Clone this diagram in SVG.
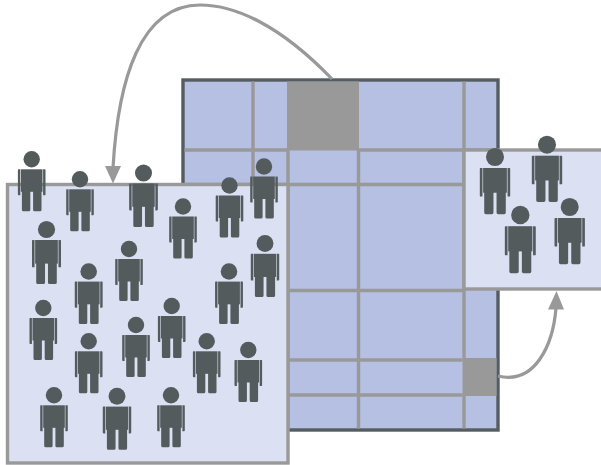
<svg xmlns="http://www.w3.org/2000/svg" width="601" height="465" viewBox="0 0 601 465">
<style>
.grid{stroke:#999;stroke-width:3.4;fill:none}
.panel{fill:#dbe0f2;stroke:#999;stroke-width:3.4}
.hot{fill:#999}
.conn{fill:none;stroke:#999;stroke-width:3.2}
.head{fill:#999}
.p{fill:#545b5d}
</style>
<defs>
<g id="person" class="p">
<circle cx="0" cy="0" r="8.200"/>
<rect x="-10.800" y="10" width="21.600" height="22.500"/>
<path d="M-9.800,30H-1.400V50.500Q-1.400,52-2.900,52H-8.300Q-9.800,52-9.800,50.500ZM1.400,30H9.800V50.500Q9.800,52,8.300,52H2.900Q1.400,52,1.400,50.500Z"/>
<path d="M-13.800,10.600Q-13.800,10-13.200,10H-11.400V36H-13Q-13.800,36-13.800,35.200ZM11.400,10H13.200Q13.800,10,13.800,10.600V35.200Q13.800,36,13,36H11.400Z"/>
</g>
</defs>
<g id="grid-frame">
<rect x="183" y="80" width="315" height="350" fill="#b5c0e2" stroke="#545d60" stroke-width="3.400"/>
<rect class="hot" x="287" y="81.500" width="72" height="69"/>
<rect class="hot" x="462.500" y="358" width="34" height="38"/>
<path class="grid" d="M253,81.500V428.500M288,150V428.500M358.500,150V428.500M464,81.500V358M464,396V428.500M184.500,150H287M359,150H496.500M184.500,184.500H462.500M184.500,290.500H462.500M184.500,360H462.500M184.500,395H462.500"/>
</g>
<g id="panel-main">
<rect class="panel" x="7.500" y="184.500" width="280.500" height="278.500"/>
</g>
<g id="panel-right">
<rect class="panel" x="464" y="150" width="140" height="139"/>
</g>
<g id="connectors">
<path class="conn" d="M332,79C280,25 235,5 200,5C140,5 118,80 113,168"/>
<polygon class="head" points="105,166 121,166 113,183.500"/>
<path class="conn" d="M498,376C535,385 553,345 556,308"/>
<polygon class="head" points="548,309.500 564,309.500 556.500,291"/>
</g>
<g id="people-main">
<use id="person-1" href="#person" transform="translate(31.700,159.300)"/>
<use id="person-2" href="#person" transform="translate(80,179.300)"/>
<use id="person-3" href="#person" transform="translate(143.500,173) scale(1.04)"/>
<use id="person-4" href="#person" transform="translate(183,206.500)"/>
<use id="person-5" href="#person" transform="translate(229.500,185.500)"/>
<use id="person-6" href="#person" transform="translate(264,166.500)"/>
<use id="person-7" href="#person" transform="translate(46.500,229.500) scale(1.05)"/>
<use id="person-8" href="#person" transform="translate(129,249)"/>
<use id="person-9" href="#person" transform="translate(88.700,271.500) scale(1.01)"/>
<use id="person-10" href="#person" transform="translate(265,243.500) scale(1.03)"/>
<use id="person-11" href="#person" transform="translate(229,271.500) scale(1.01)"/>
<use id="person-12" href="#person" transform="translate(43.300,308)"/>
<use id="person-13" href="#person" transform="translate(171.700,306)"/>
<use id="person-14" href="#person" transform="translate(136,325)"/>
<use id="person-15" href="#person" transform="translate(88.700,341.300)"/>
<use id="person-16" href="#person" transform="translate(206.700,341.300)"/>
<use id="person-17" href="#person" transform="translate(248.300,350)"/>
<use id="person-18" href="#person" transform="translate(54,395.300)"/>
<use id="person-19" href="#person" transform="translate(117,396.300) scale(1.03)"/>
<use id="person-20" href="#person" transform="translate(171,395.300)"/>
</g>
<g id="people-right">
<use id="person-21" href="#person" transform="translate(495,157) scale(1.1)"/>
<use id="person-22" href="#person" transform="translate(547,144.700) scale(1.1)"/>
<use id="person-23" href="#person" transform="translate(520.300,215) scale(1.12)"/>
<use id="person-24" href="#person" transform="translate(569.700,207) scale(1.1)"/>
</g>
</svg>
